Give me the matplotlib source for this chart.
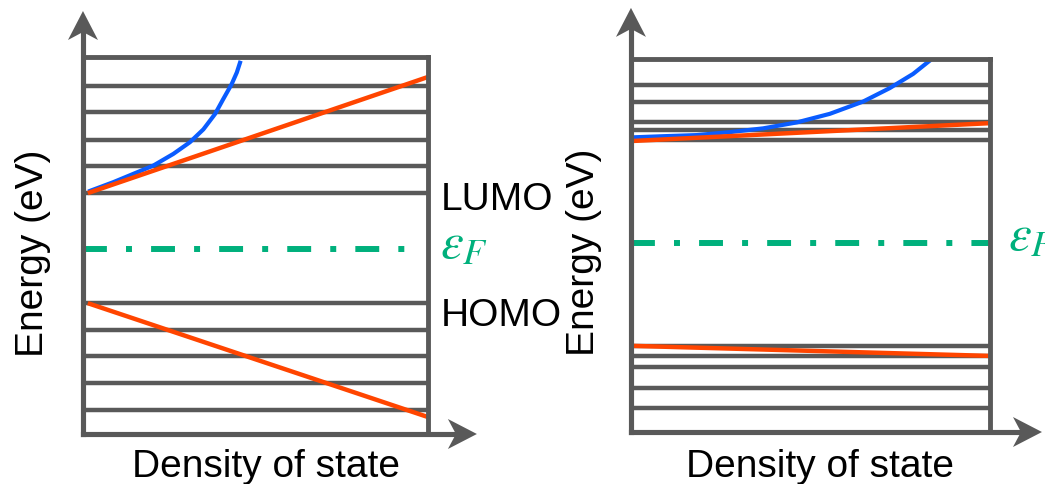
import matplotlib.pyplot as plt
from matplotlib.patches import Polygon
from matplotlib.transforms import ScaledTranslation

# energy levels (arbitrary units, box spans 0..10), DOS in 0..1
left_levels = [9.23, 8.54, 7.80, 7.11, 6.39, 3.47, 2.76, 2.07, 1.35, 0.64]
left_fermi = 4.91
left_cb_x = [0.014, 1.0]
left_cb_e = [6.39, 9.47]
left_vb_x = [0.014, 1.0]
left_vb_e = [3.47, 0.45]
left_blue_x = [0.015, 0.088, 0.146, 0.204, 0.262, 0.310, 0.349, 0.383,
               0.407, 0.431, 0.446, 0.457]
left_blue_e = [6.43, 6.68, 6.90, 7.12, 7.43, 7.74, 8.08, 8.49,
               8.89, 9.28, 9.59, 9.90]

right_levels = [9.30, 8.85, 8.31, 8.10, 7.83, 2.31, 2.04, 1.74, 1.18, 0.64]
right_fermi = 5.07
right_cb_x = [0.0, 1.0]
right_cb_e = [7.80, 8.28]
right_vb_x = [0.003, 1.0]
right_vb_e = [2.31, 2.04]
right_blue_x = [0.006, 0.090, 0.183, 0.276, 0.368, 0.462, 0.554, 0.647,
                0.721, 0.786, 0.838]
right_blue_e = [7.90, 7.93, 7.96, 8.04, 8.14, 8.30, 8.53, 8.86,
                9.22, 9.60, 10.0]

GRAY = '#595959'
ORANGE = '#FF4500'
BLUE = '#0A5CFF'
GREEN = '#00B07C'

plt.rcParams['font.family'] = ['Liberation Sans', 'DejaVu Sans']

fig = plt.figure(figsize=(10.45, 4.85), dpi=100)


def arrow_head(ax, tx, ty, up):
    # stealth-like head, vertices in inches relative to the tip
    if up:
        verts = [(0, 0), (-0.15, -0.29), (0, -0.21), (0.15, -0.29)]
    else:
        verts = [(0, 0), (-0.29, 0.15), (-0.21, 0), (-0.29, -0.15)]
    tr = fig.dpi_scale_trans + ScaledTranslation(tx, ty, ax.transAxes)
    fig.patches.append(Polygon(verts, closed=True, transform=tr,
                               facecolor=GRAY, edgecolor='none'))


def panel(rect, levels, fermi, fermi_end, cb, vb, blue, up_tip, right_tip):
    ax = fig.add_axes(rect)
    ax.set_xlim(0, 1)
    ax.set_ylim(0, 10)
    ax.set_xticks([])
    ax.set_yticks([])
    for s in ['left', 'bottom']:
        ax.spines[s].set_visible(False)
    for s in ['top', 'right']:
        ax.spines[s].set_color(GRAY)
        ax.spines[s].set_linewidth(3.5)

    ax.hlines(levels, 0, 1, color=GRAY, lw=3.2)
    ax.plot([0, fermi_end], [fermi, fermi], color=GREEN, lw=4.3,
            linestyle=(0, (4, 3.2, 1, 3.2)))
    ax.plot(blue[0], blue[1], color=BLUE, lw=3.0, solid_capstyle='butt',
            solid_joinstyle='round')
    ax.plot(cb[0], cb[1], color=ORANGE, lw=3.2, solid_capstyle='butt')
    ax.plot(vb[0], vb[1], color=ORANGE, lw=3.2, solid_capstyle='butt')

    # axes with arrows
    ax.plot([0, 0], [0, up_tip - 0.04], transform=ax.transAxes, color=GRAY,
            lw=3.7, clip_on=False, solid_capstyle='projecting')
    ax.plot([0, right_tip - 0.04], [0, 0], transform=ax.transAxes, color=GRAY,
            lw=3.7, clip_on=False, solid_capstyle='projecting')
    arrow_head(ax, 0, up_tip, True)
    arrow_head(ax, right_tip, 0, False)
    return ax


ax1 = panel([0.0794, 0.1031, 0.3301, 0.7773], left_levels, left_fermi, 0.94,
            (left_cb_x, left_cb_e), (left_vb_x, left_vb_e),
            (left_blue_x, left_blue_e), 1.122, 1.142)
ax2 = panel([0.6038, 0.1072, 0.3435, 0.7691], right_levels, right_fermi, 1.0,
            (right_cb_x, right_cb_e), (right_vb_x, right_vb_e),
            (right_blue_x, right_blue_e), 1.137, 1.145)

ax1.text(1.038, 6.23, 'LUMO', fontsize=28, va='center', ha='left', clip_on=False)
ax1.text(1.038, 3.16, 'HOMO', fontsize=28, va='center', ha='left', clip_on=False)
ax1.text(1.036, 4.69, r'$\varepsilon_F$', fontsize=37, color=GREEN,
         math_fontfamily='stix', va='baseline', ha='left', clip_on=False)
ax2.text(1.05, 4.91, r'$\varepsilon_F$', fontsize=37, color=GREEN,
         math_fontfamily='stix', va='baseline', ha='left', clip_on=False)

fig.text(33 / 1045, 1 - 253 / 485, 'Energy (eV)', fontsize=28, rotation=90,
         ha='center', va='center')
fig.text(584 / 1045, 1 - 252 / 485, 'Energy (eV)', fontsize=28, rotation=90,
         ha='center', va='center')
fig.text(266 / 1045, 8 / 485, 'Density of state', fontsize=28,
         ha='center', va='baseline')
fig.text(820 / 1045, 8 / 485, 'Density of state', fontsize=28,
         ha='center', va='baseline')

fig.savefig('out.png', dpi=100)
